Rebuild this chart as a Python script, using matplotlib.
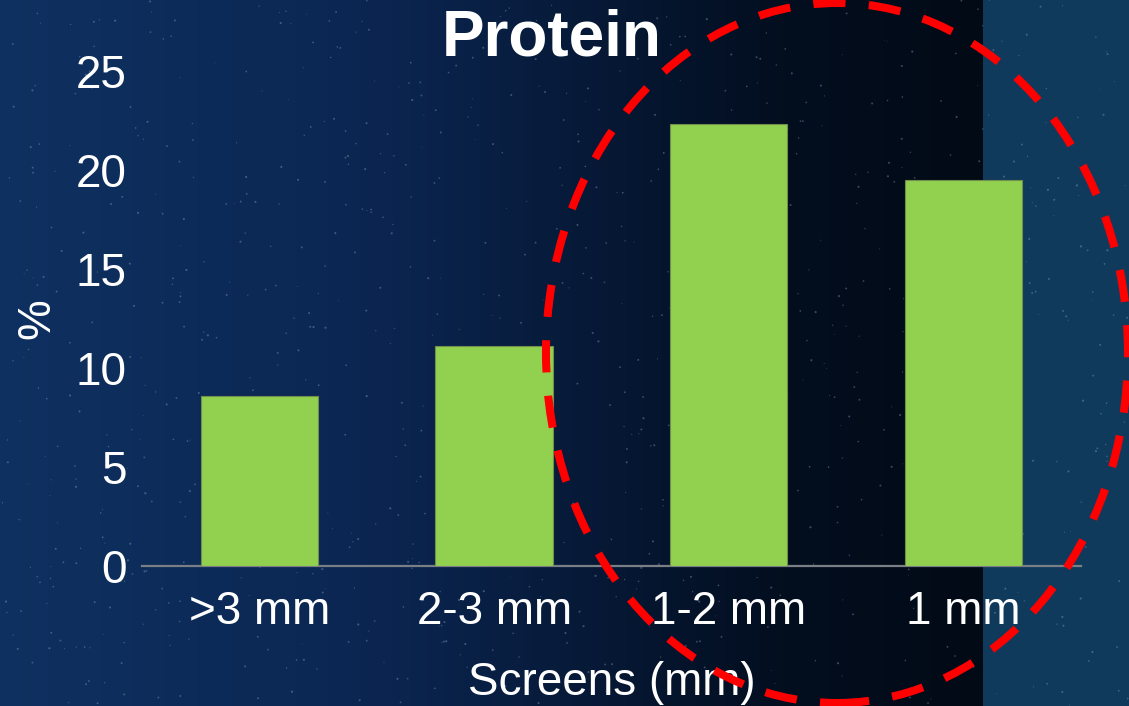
"""Protein share by screen size, on a night-sky slide background."""

import numpy as np
import matplotlib
matplotlib.use("Agg")
import matplotlib.pyplot as plt
from matplotlib.colors import LinearSegmentedColormap
from matplotlib.patches import Ellipse, Rectangle

plt.rcParams["font.family"] = ["Liberation Sans", "DejaVu Sans"]

screens = [">3 mm", "2-3 mm", "1-2 mm", "1 mm"]
protein_pct = [8.6, 11.1, 22.3, 19.5]
y_ticks = [0, 5, 10, 15, 20, 25]

PALETTE = {
    "bar": "#92d050",
    "bar_edge": "#6f8f4a",
    "text": "#ffffff",
    "axis": "#7a7f85",
    "mark": "#ff0000",
    "panel": "#103a5c",
}

W, H, DPI = 1129, 706, 100
fig = plt.figure(figsize=(W / DPI, H / DPI), dpi=DPI)

# background: blue sky fading to near-black, lighter panel on the right
bg = fig.add_axes([0, 0, 1, 1])
bg.set_xlim(0, W)
bg.set_ylim(H, 0)
bg.axis("off")
sky = LinearSegmentedColormap.from_list(
    "sky", [(0.0, "#0f3161"), (0.4, "#0b2550"), (0.62, "#061834"),
            (0.8, "#030e1f"), (1.0, "#020a16")])
grad = np.linspace(0, 1, 512)[None, :]
bg.imshow(np.repeat(grad, 2, axis=0), cmap=sky, aspect="auto",
          extent=[0, 983, H, 0], interpolation="bicubic")
bg.add_patch(Rectangle((983, 0), W - 983, H, color=PALETTE["panel"], lw=0))
rng = np.random.default_rng(11)
sx = rng.uniform(0, W, 900)
sy = rng.uniform(0, H, 900)
bg.scatter(sx, sy, s=rng.uniform(0.3, 2.5, 900), color="#9fb8d8",
           alpha=0.35, lw=0)

ax = fig.add_axes([142.2 / W, 1 - 566 / H, 938.4 / W, 495 / H])
ax.patch.set_alpha(0)
x = np.arange(len(screens))
ax.bar(x, protein_pct, width=0.5, color=PALETTE["bar"],
       edgecolor=PALETTE["bar_edge"], linewidth=0.8, zorder=3)
ax.set_xlim(-0.5, len(screens) - 0.5)
ax.set_ylim(0, 25)
ax.set_yticks(y_ticks)
ax.set_xticks(x, screens)
ax.tick_params(axis="both", length=0, labelsize=33, colors=PALETTE["text"])
ax.tick_params(axis="x", pad=17)
ax.tick_params(axis="y", pad=11)
for side in ("top", "right", "left"):
    ax.spines[side].set_visible(False)
ax.spines["bottom"].set_color(PALETTE["axis"])
ax.spines["bottom"].set_linewidth(1.6)

ax.set_xlabel("Screens (mm)", fontsize=33, color=PALETTE["text"], labelpad=20)
ax.set_ylabel("%", fontsize=33, color=PALETTE["text"], labelpad=12)
fig.text(552 / W, 1 - 38 / H, "Protein", ha="center", va="center",
         fontsize=46, fontweight="bold", color=PALETTE["text"])

# dashed highlight round the two finest screens
ring = Ellipse((837 / W, 1 - 353 / H), 582 / W, 700 / H,
               transform=fig.transFigure, fill=False,
               edgecolor=PALETTE["mark"], lw=5.8,
               linestyle=(0, (4.0, 2.9)), zorder=10)
fig.add_artist(ring)

fig.savefig("out.png", dpi=DPI)
